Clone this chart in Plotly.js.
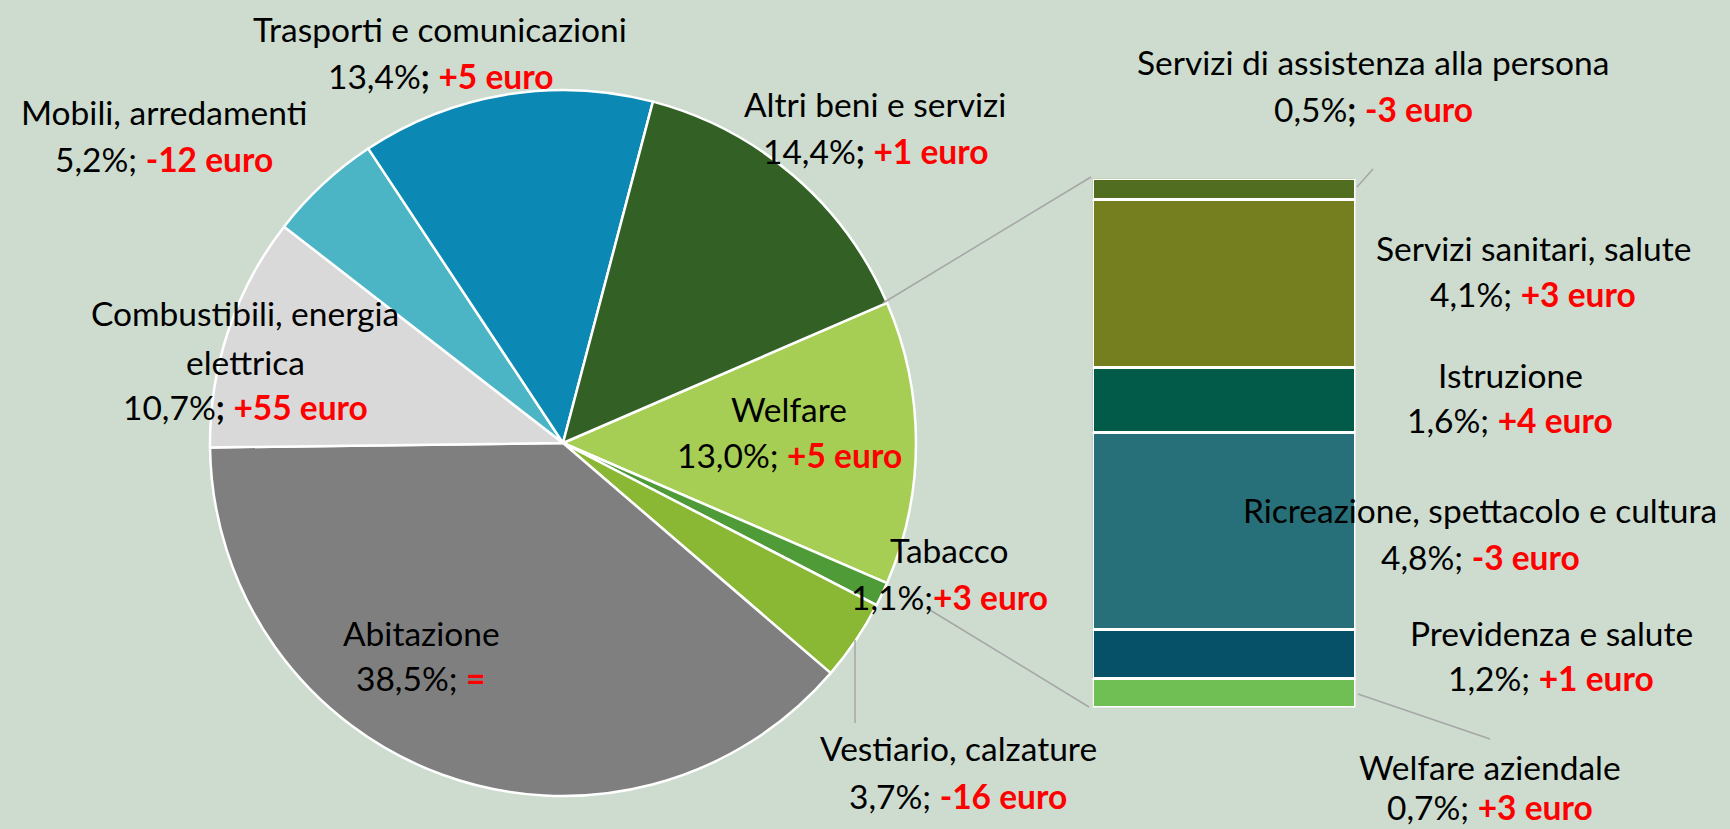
<!DOCTYPE html>
<html>
<head>
<meta charset="utf-8">
<script src="https://cdn.plot.ly/plotly-3.0.1.min.js"></script>
<style>
html,body{margin:0;padding:0;background:#cddccf;}
#chart{width:1730px;height:829px;}
</style>
</head>
<body>
<div id="chart"></div>
<script>
// ---- Data ----
const pieLabels = ['Welfare', 'Tabacco', 'Vestiario, calzature', 'Abitazione',
  'Combustibili, energia elettrica', 'Mobili, arredamenti',
  'Trasporti e comunicazioni', 'Altri beni e servizi'];
const pieShares = [13.0, 1.1, 3.7, 38.5, 10.7, 5.2, 13.4, 14.4];
const pieChanges = ['+5 euro', '+3 euro', '-16 euro', '=', '+55 euro', '-12 euro', '+5 euro', '+1 euro'];

const barLabels = ['Welfare aziendale', 'Previdenza e salute', 'Ricreazione, spettacolo e cultura',
  'Istruzione', 'Servizi sanitari, salute', 'Servizi di assistenza alla persona'];
const barShares = [0.7, 1.2, 4.8, 1.6, 4.1, 0.5];
const barChanges = ['+3 euro', '+1 euro', '-3 euro', '+4 euro', '+3 euro', '-3 euro'];

// ---- Styles ----
const W = 1730, H = 829;
const BG = '#cddccf';
const FONT = 'Lato, "Open Sans", sans-serif';
const FS = 33.5;
const pieColors = ['#a6ce54', '#4f9b38', '#8ab834', '#7f7f7f', '#d9d9d9', '#4bb5c6', '#0b88b3', '#336025'];
const barColors = ['#70bf54', '#065068', '#27707a', '#025b49', '#767f20', '#516d1f'];

// label layout: x center px, y of each line px
const pieLabelPos = [
  {lines: ['Welfare'], x: 789, y: [409, 455]},
  {lines: ['Tabacco'], x: 949, y: [550, 597], nospace: true},
  {lines: ['Vestiario, calzature'], x: 958, y: [748, 796]},
  {lines: ['Abitazione'], x: 421, y: [633, 678]},
  {lines: ['Combustibili, energia', 'elettrica'], x: 245, y: [313, 362, 407], bold: true},
  {lines: ['Mobili, arredamenti'], x: 164, y: [112, 159]},
  {lines: ['Trasporti e comunicazioni'], x: 440, y: [29, 76], bold: true},
  {lines: ['Altri beni e servizi'], x: 875, y: [104, 151], bold: true}
];
const barLabelPos = [
  {x: 1490, y: [767, 813], lastBottom: true},
  {x: 1551, y: [633, 678]},
  {x: 1480, y: [510, 557]},
  {x: 1510, y: [375, 420]},
  {x: 1533, y: [248, 294]},
  {x: 1373, y: [62, 109], bold: true}
];

const px = x => x / W;
const py = y => 1 - y / H;
const fmt = v => v.toFixed(1).replace('.', ',') + '%';

const annotations = [];
function addLine(text, x, y, bottom) {
  annotations.push({
    text: text, xref: 'paper', yref: 'paper', x: px(x), y: bottom ? 0 : py(y),
    xanchor: 'center', yanchor: bottom ? 'bottom' : 'middle', showarrow: false,
    font: {family: FONT, size: FS, color: '#000000'}
  });
}
function addLabel(nameLines, share, change, pos) {
  nameLines.forEach((t, i) => addLine(t, pos.x, pos.y[i]));
  const semi = pos.bold ? '<b>;</b>' : ';';
  const sp = pos.nospace ? '' : ' ';
  const txt = fmt(share) + semi + sp + '<b><span style="color:#ff0000">' + change + '</span></b>';
  addLine(txt, pos.x, pos.y[pos.y.length - 1], pos.lastBottom);
}
pieLabels.forEach((l, i) => addLabel(pieLabelPos[i].lines, pieShares[i], pieChanges[i], pieLabelPos[i]));
barLabels.forEach((l, i) => addLabel([l], barShares[i], barChanges[i], barLabelPos[i]));

// leader lines
const lineStyle = {color: '#a6a6a6', width: 1.5};
const leaders = [
  [883, 303, 1091, 177],
  [930, 610, 1089, 707],
  [855, 640, 855, 723],
  [1357, 187, 1373, 169],
  [1358, 694, 1490, 739]
];
const shapes = leaders.map(l => ({
  type: 'line', xref: 'paper', yref: 'paper',
  x0: px(l[0]), y0: py(l[1]), x1: px(l[2]), y1: py(l[3]), line: lineStyle
}));

// ---- Traces ----
const cx = 563, cy = 443, r = 353;
const pieTrace = {
  type: 'pie',
  labels: pieLabels,
  values: pieShares,
  sort: false,
  direction: 'clockwise',
  rotation: 90 - pieShares[0] * 3.6 / 2,
  marker: {colors: pieColors, line: {color: '#ffffff', width: 2.5}},
  textinfo: 'none',
  hoverinfo: 'label+percent',
  showlegend: false,
  domain: {x: [px(cx - r), px(cx + r)], y: [py(cy + r), py(cy - r)]}
};

const barTraces = barLabels.map((l, i) => ({
  type: 'bar',
  x: ['Welfare'],
  y: [barShares[i]],
  name: l,
  marker: {color: barColors[i], line: {color: '#ffffff', width: 3}},
  xaxis: 'x', yaxis: 'y',
  showlegend: false,
  hoverinfo: 'name+y'
}));

const barSum = barShares.reduce((a, b) => a + b, 0);

const layout = {
  width: W, height: H,
  margin: {l: 0, r: 0, t: 0, b: 0},
  paper_bgcolor: BG,
  plot_bgcolor: 'rgba(0,0,0,0)',
  barmode: 'stack',
  bargap: 0,
  showlegend: false,
  xaxis: {domain: [px(1092.5), px(1355.5)], range: [-0.5, 0.5], visible: false, fixedrange: true},
  yaxis: {domain: [py(707.5), py(178.5)], range: [0, barSum], visible: false, fixedrange: true},
  annotations: annotations,
  shapes: shapes
};

Plotly.newPlot('chart', [pieTrace].concat(barTraces), layout, {displayModeBar: false});
</script>
</body>
</html>
